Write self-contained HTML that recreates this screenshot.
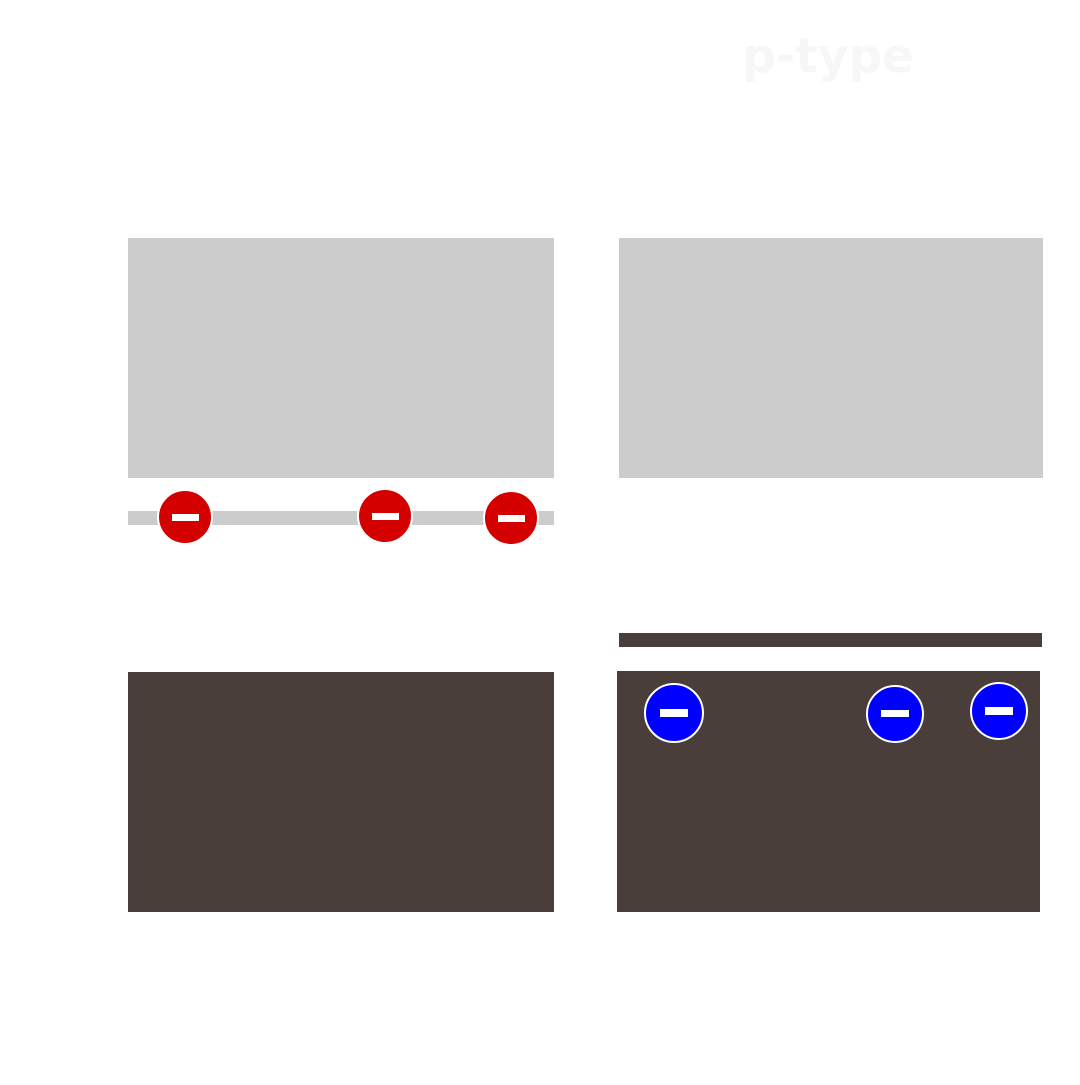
<!DOCTYPE html>
<html><head><style>body{margin:0;background:#fff}</style></head><body>
<svg width="1080" height="1080" xmlns="http://www.w3.org/2000/svg">
<rect width="1080" height="1080" fill="#fff"/>
<text x="828" y="72" text-anchor="middle" font-family="DejaVu Sans, sans-serif" font-weight="bold" font-size="47" fill="#f7f7f7">p-type</text>
<rect x="128" y="238" width="426" height="240" fill="#cccccc"/>
<rect x="619" y="238" width="424" height="240" fill="#cccccc"/>
<rect x="128" y="511" width="426" height="14" fill="#cccccc"/>
<rect x="128" y="672" width="426" height="240" fill="#493e39"/>
<rect x="619" y="633" width="423" height="14" fill="#493e39"/>
<rect x="617" y="671" width="423" height="241" fill="#493e39"/>
<g stroke="#fff" stroke-width="2">
<circle cx="185" cy="517" r="27" fill="#d40000"/>
<circle cx="385" cy="516" r="27" fill="#d40000"/>
<circle cx="511" cy="518" r="27" fill="#d40000"/>
<circle cx="674" cy="713" r="29" fill="#0000ff"/>
<circle cx="895" cy="714" r="28" fill="#0000ff"/>
<circle cx="999" cy="711" r="28" fill="#0000ff"/>
</g>
<g fill="#fff">
<rect x="172" y="514" width="27" height="7"/>
<rect x="372" y="513" width="27" height="7"/>
<rect x="498" y="515" width="27" height="7"/>
<rect x="660" y="709" width="28" height="8"/>
<rect x="881" y="710" width="28" height="7"/>
<rect x="985" y="707" width="28" height="8"/>
</g>
</svg>
</body></html>
